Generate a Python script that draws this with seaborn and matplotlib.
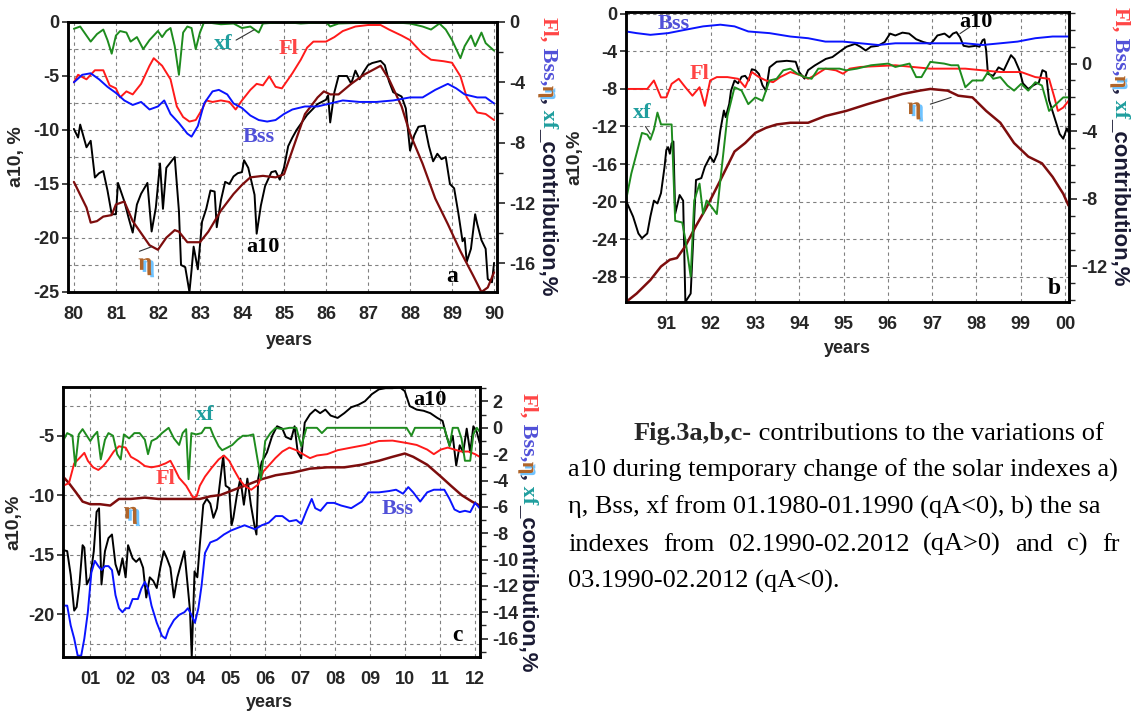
import matplotlib
matplotlib.use("Agg")
import matplotlib.pyplot as plt
import matplotlib.patheffects as pe
from matplotlib.ticker import MultipleLocator
import pandas as pd
import seaborn as sns

# ---------------- panel a : 1980 - 1990 ----------------
A_A10 = [(80.0,-9.9),(80.1,-10.7),(80.15,-9.5),(80.3,-11.6),(80.4,-11.0),(80.5,-14.4),(80.6,-14.0),(80.7,-13.8),
         (80.8,-15.6),(80.9,-17.8),(81.0,-17.8),(81.05,-14.9),(81.2,-16.6),(81.3,-18.1),(81.4,-19.5),(81.5,-16.9),
         (81.6,-15.9),(81.75,-14.9),(81.85,-19.4),(81.95,-17.2),(82.05,-13.1),(82.12,-17.3),(82.2,-13.5),(82.3,-13.0),
         (82.4,-12.5),(82.5,-17.5),(82.55,-22.5),(82.65,-22.7),(82.75,-25.0),(82.8,-23.0),(82.85,-20.8),(82.95,-22.9),
         (83.05,-18.5),(83.15,-17.3),(83.25,-15.6),(83.35,-15.7),(83.4,-19.0),(83.5,-16.5),(83.6,-14.8),(83.7,-15.0),
         (83.8,-14.3),(83.9,-14.0),(84.0,-13.9),(84.05,-12.8),(84.15,-13.5),(84.3,-16.0),(84.35,-19.6),(84.45,-17.0),
         (84.55,-15.2),(84.7,-13.9),(84.8,-13.8),(84.9,-14.6),(85.0,-13.5),(85.1,-11.5),(85.2,-10.7),(85.3,-10.0),
         (85.55,-8.6),(85.8,-7.6),(86.0,-7.2),(86.05,-6.8),(86.1,-9.3),(86.2,-6.5),(86.3,-5.0),(86.5,-5.0),
         (86.6,-5.7),(86.7,-4.5),(86.8,-5.3),(86.9,-4.6),(87.0,-4.0),(87.1,-3.8),(87.3,-3.6),(87.4,-4.0),
         (87.5,-5.5),(87.6,-6.5),(87.8,-6.9),(87.9,-8.0),(88.0,-11.9),(88.1,-10.5),(88.2,-9.7),(88.35,-9.6),
         (88.45,-11.5),(88.55,-12.9),(88.65,-12.2),(88.75,-12.7),(88.85,-12.5),(88.95,-15.0),(89.05,-15.4),(89.15,-17.7),
         (89.25,-20.3),(89.3,-20.0),(89.35,-22.2),(89.45,-21.0),(89.55,-17.8),(89.6,-18.7),(89.7,-20.2),(89.8,-21.0),
         (89.85,-23.8),(89.95,-24.1),(90.0,-22.3)]
A_ETA = [(80.0,-10.6),(80.3,-12.3),(80.4,-13.3),(80.55,-13.2),(80.7,-12.9),(80.9,-12.8),(81.0,-12.1),(81.2,-11.9),
         (81.4,-13.2),(81.6,-14.0),(81.8,-14.8),(82.0,-15.1),(82.2,-14.3),(82.4,-13.8),(82.5,-13.9),(82.7,-14.6),
         (83.0,-14.6),(83.2,-13.9),(83.5,-12.5),(83.8,-11.4),(84.0,-10.8),(84.2,-10.3),(84.5,-10.2),(84.8,-10.3),
         (85.0,-10.1),(85.2,-8.5),(85.5,-6.1),(85.8,-5.0),(85.95,-4.6),(86.1,-4.8),(86.3,-4.8),(86.6,-4.1),
         (86.9,-3.5),(87.1,-3.2),(87.3,-2.9),(87.5,-3.8),(87.8,-5.6),(88.0,-7.4),(88.3,-9.4),(88.6,-11.7),
         (88.9,-13.4),(89.2,-15.2),(89.5,-16.8),(89.7,-17.9),(89.85,-17.6),(90.0,-16.6)]
A_FL = [(80.0,-4.0),(80.1,-3.5),(80.3,-3.8),(80.5,-3.2),(80.7,-3.2),(80.85,-4.2),(81.0,-4.4),(81.1,-5.0),
        (81.25,-4.6),(81.4,-4.8),(81.6,-4.1),(81.8,-2.9),(81.9,-2.4),(82.1,-2.9),(82.3,-3.8),(82.45,-5.6),
        (82.6,-6.3),(82.75,-6.6),(82.9,-6.5),(83.05,-5.8),(83.15,-5.2),(83.3,-5.3),(83.5,-5.2),(83.7,-5.3),
        (83.85,-5.8),(84.0,-5.2),(84.2,-4.5),(84.35,-4.1),(84.5,-4.2),(84.65,-3.6),(84.8,-4.3),(84.95,-4.4),
        (85.1,-3.8),(85.2,-3.4),(85.4,-2.5),(85.55,-1.7),(85.7,-1.3),(86.0,-1.3),(86.2,-1.0),(86.4,-0.6),
        (86.7,-0.3),(87.0,-0.2),(87.3,-0.2),(87.5,-0.5),(87.8,-0.9),(88.0,-1.2),(88.3,-2.1),(88.5,-2.5),
        (88.8,-2.6),(89.0,-2.7),(89.2,-3.6),(89.35,-5.0),(89.6,-6.0),(89.8,-6.1),(90.0,-6.5)]
A_BSS = [(80.0,-4.0),(80.2,-3.5),(80.4,-3.4),(80.6,-3.8),(80.8,-4.3),(81.0,-4.7),(81.2,-5.2),(81.4,-5.5),
         (81.6,-5.3),(81.8,-5.8),(82.0,-5.6),(82.15,-5.2),(82.3,-6.1),(82.5,-6.7),(82.7,-7.4),(82.8,-7.6),
         (82.95,-6.9),(83.1,-5.4),(83.3,-4.6),(83.45,-4.5),(83.65,-4.8),(83.8,-5.4),(84.0,-5.7),(84.2,-6.2),
         (84.4,-6.5),(84.6,-6.6),(84.8,-6.5),(85.0,-6.1),(85.2,-5.8),(85.5,-5.6),(85.8,-5.6),(86.1,-5.4),
         (86.4,-5.2),(86.8,-5.3),(87.2,-5.3),(87.6,-5.2),(88.0,-5.0),(88.3,-5.0),(88.6,-4.5),(88.9,-4.1),
         (89.1,-4.4),(89.3,-4.8),(89.6,-5.0),(89.8,-5.0),(90.0,-5.4)]
A_XF = [(80.0,-0.45),(80.15,-0.3),(80.3,-0.9),(80.4,-1.3),(80.55,-0.8),(80.7,-0.5),(80.8,-1.2),(80.9,-2.1),
        (81.0,-0.9),(81.1,-0.6),(81.25,-0.7),(81.35,-1.3),(81.5,-1.0),(81.65,-1.8),(81.8,-1.2),(82.0,-0.6),
        (82.1,-1.0),(82.2,-0.6),(82.3,-0.4),(82.4,-1.6),(82.5,-3.5),(82.6,-0.7),(82.7,-0.3),(82.8,-0.4),
        (82.9,-1.8),(83.0,-0.7),(83.1,0.0),(83.5,-0.15),(83.8,-0.1),(84.0,-0.4),(84.2,-0.3),(84.4,-0.7),
        (84.5,-0.1),(85.0,0.0),(85.4,-0.1),(86.0,0.0),(86.1,-0.3),(86.3,-0.1),(87.5,0.0),(88.0,-0.1),
        (88.3,-0.3),(88.5,-0.5),(88.7,-0.1),(88.85,-0.5),(89.0,-1.2),(89.2,-2.4),(89.3,-1.6),(89.45,-0.9),
        (89.55,-1.6),(89.7,-0.7),(89.8,-1.4),(90.0,-1.9)]

# ---------------- panel b : 1990 - 2000 ----------------
B_A10 = [(90.09,-19.9),(90.25,-21.6),(90.37,-23.4),(90.45,-23.9),(90.57,-23.4),(90.64,-21.6),(90.72,-19.9),(90.8,-20.2),
         (90.88,-19.1),(90.92,-17.7),(90.96,-16.3),(91.0,-14.5),(91.04,-14.2),(91.08,-14.9),(91.12,-13.8),(91.16,-13.6),
         (91.2,-21.3),(91.3,-19.3),(91.38,-19.9),(91.43,-30.7),(91.55,-29.8),(91.67,-17.7),(91.79,-17.5),(91.87,-16.3),
         (91.99,-15.2),(92.07,-15.8),(92.15,-14.9),(92.22,-12.4),(92.3,-10.3),(92.34,-11.0),(92.42,-9.6),(92.46,-8.2),
         (92.54,-7.1),(92.62,-7.4),(92.7,-6.7),(92.78,-6.6),(92.86,-7.1),(92.93,-5.9),(93.01,-6.0),(93.09,-6.4),
         (93.17,-7.6),(93.25,-8.2),(93.33,-5.7),(93.49,-5.1),(93.72,-5.0),(93.92,-5.1),(94.0,-6.2),(94.12,-6.9),
         (94.2,-6.0),(94.35,-5.5),(94.6,-4.8),(94.75,-4.6),(94.95,-3.9),(95.07,-3.5),(95.26,-3.2),(95.38,-3.5),
         (95.5,-3.9),(95.62,-3.5),(95.78,-3.4),(95.93,-3.0),(96.05,-2.1),(96.17,-2.3),(96.33,-2.0),(96.48,-2.1),
         (96.64,-2.7),(96.8,-3.0),(96.96,-3.2),(97.04,-2.8),(97.12,-2.3),(97.28,-2.1),(97.39,-2.5),(97.47,-2.1),
         (97.55,-1.95),(97.63,-2.5),(97.71,-3.4),(97.83,-3.5),(97.99,-3.4),(98.07,-3.5),(98.14,-2.8),(98.18,-2.7),
         (98.22,-3.9),(98.26,-6.4),(98.38,-6.6),(98.5,-5.7),(98.62,-6.0),(98.78,-4.4),(98.86,-4.8),(98.97,-6.0),
         (99.05,-7.4),(99.17,-8.0),(99.29,-7.6),(99.41,-7.3),(99.49,-6.0),(99.57,-6.2),(99.64,-9.2),(99.76,-11.0),
         (99.88,-12.8),(99.96,-13.3),(100.04,-12.2),(100.08,-12.6)]
B_ETA = [(90.09,-14.1),(90.33,-13.6),(90.64,-12.8),(90.88,-12.0),(91.08,-11.6),(91.24,-11.5),(91.43,-10.8),(91.67,-9.6),
         (91.91,-8.5),(92.22,-6.9),(92.54,-5.2),(92.78,-4.7),(93.01,-4.1),(93.25,-3.8),(93.49,-3.6),(93.8,-3.5),
         (94.2,-3.5),(94.59,-3.1),(95.06,-2.8),(95.54,-2.4),(95.93,-2.1),(96.33,-1.8),(96.72,-1.6),(96.96,-1.5),
         (97.35,-1.6),(97.59,-1.9),(97.91,-2.0),(98.22,-2.8),(98.54,-3.5),(98.85,-4.7),(99.17,-5.5),(99.48,-5.9),
         (99.72,-6.7),(99.96,-7.7),(100.08,-8.4)]
B_FL = [(90.09,-1.5),(90.33,-1.5),(90.57,-1.5),(90.72,-1.0),(90.88,-2.0),(91.0,-2.0),(91.12,-1.2),(91.28,-0.9),
        (91.43,-1.4),(91.59,-1.9),(91.75,-1.4),(91.87,-2.5),(91.99,-1.0),(92.14,-0.8),(92.38,-0.8),(92.62,-0.9),
        (92.78,-1.4),(92.93,-0.5),(93.09,-0.8),(93.25,-1.0),(93.41,-1.1),(93.57,-0.8),(93.8,-0.5),(94.04,-0.7),
        (94.2,-0.9),(94.35,-0.7),(94.59,-0.3),(94.83,-0.4),(94.99,-0.6),(95.14,-0.3),(95.38,-0.2),(95.78,-0.15),
        (96.17,-0.1),(96.56,-0.2),(96.96,-0.3),(97.35,-0.3),(97.75,-0.3),(98.14,-0.4),(98.54,-0.5),(99.01,-0.5),
        (99.33,-0.8),(99.64,-0.9),(99.76,-2.0),(99.84,-2.8),(99.96,-2.6),(100.08,-2.2)]
B_XF = [(90.09,-8.1),(90.21,-6.5),(90.33,-5.3),(90.45,-4.1),(90.57,-4.2),(90.64,-4.5),(90.72,-3.9),(90.8,-2.9),
        (90.88,-3.6),(91.0,-3.6),(91.12,-3.6),(91.2,-9.3),(91.36,-9.4),(91.43,-10.4),(91.55,-12.6),(91.63,-8.1),
        (91.75,-7.1),(91.83,-8.9),(91.91,-8.1),(92.03,-8.5),(92.14,-8.9),(92.22,-6.9),(92.38,-3.1),(92.54,-1.4),
        (92.7,-1.6),(92.85,-2.4),(93.01,-2.0),(93.17,-2.2),(93.33,-1.0),(93.49,-0.9),(93.64,-0.4),(93.8,-0.3),
        (93.96,-0.6),(94.12,-0.8),(94.28,-0.9),(94.43,-0.3),(94.91,-0.3),(95.06,-0.4),(95.3,-0.3),(95.62,-0.1),
        (96.01,0.0),(96.17,-0.2),(96.49,0.0),(96.64,-0.8),(96.76,-0.8),(96.96,0.1),(97.27,0.0),(97.43,-0.1),
        (97.59,-0.1),(97.75,-1.4),(97.91,-1.0),(98.14,-1.0),(98.26,-0.5),(98.38,-0.9),(98.54,-0.8),(98.7,-1.3),
        (98.85,-1.6),(99.01,-1.2),(99.17,-1.6),(99.33,-1.1),(99.48,-1.3),(99.64,-2.8),(99.8,-2.4),(99.96,-2.0),
        (100.08,-2.0)]
B_BSS = [(90.09,1.9),(90.33,1.8),(90.64,1.7),(91.04,1.8),(91.43,2.0),(91.83,2.2),(92.22,2.3),(92.54,2.2),
         (92.85,1.9),(93.33,1.8),(93.8,1.6),(94.2,1.5),(94.59,1.3),(94.99,1.3),(95.38,1.2),(95.78,1.1),
         (96.17,1.2),(96.96,1.2),(97.75,1.2),(98.14,1.1),(98.54,1.2),(98.93,1.3),(99.33,1.5),(99.72,1.6),
         (100.08,1.6)]

# ---------------- panel c : 2000 - 2012 ----------------
C_A10 = [(0.22,-14.6),(0.34,-14.7),(0.44,-16.7),(0.54,-19.7),(0.61,-19.4),(0.69,-17.5),(0.78,-14.2),(0.83,-14.4),
         (0.9,-17.5),(1.0,-16.9),(1.1,-14.7),(1.18,-11.4),(1.25,-11.1),(1.32,-17.5),(1.42,-14.7),(1.52,-13.6),
         (1.62,-13.3),(1.72,-15.8),(1.82,-16.7),(1.92,-15.3),(2.01,-16.9),(2.08,-14.2),(2.21,-15.3),(2.31,-15.6),
         (2.41,-15.3),(2.51,-16.1),(2.6,-18.6),(2.7,-16.9),(2.8,-17.2),(2.9,-17.8),(3.0,-16.1),(3.1,-14.7),
         (3.19,-15.3),(3.29,-16.1),(3.39,-18.6),(3.49,-16.9),(3.59,-15.8),(3.69,-14.7),(3.79,-17.8),(3.85,-19.7),
         (3.9,-23.6),(3.98,-16.4),(4.06,-16.9),(4.13,-14.2),(4.23,-10.8),(4.33,-10.3),(4.43,-10.7),(4.52,-11.9),
         (4.62,-11.1),(4.72,-8.6),(4.8,-6.7),(4.87,-9.2),(4.97,-9.4),(5.04,-12.5),(5.09,-11.9),(5.19,-10.0),
         (5.29,-8.6),(5.39,-10.8),(5.49,-8.6),(5.59,-10.8),(5.69,-12.5),(5.75,-13.3),(5.8,-8.6),(5.9,-7.2),
         (6.05,-6.4),(6.2,-5.0),(6.34,-4.2),(6.49,-4.4),(6.59,-5.1),(6.74,-5.3),(6.84,-4.2),(6.93,-6.4),
         (7.03,-6.9),(7.13,-3.9),(7.28,-3.2),(7.43,-2.8),(7.57,-3.1),(7.72,-2.8),(7.87,-3.3),(8.07,-3.5),
         (8.26,-3.1),(8.46,-2.6),(8.66,-2.4),(8.85,-2.1),(9.05,-1.5),(9.25,-1.1),(9.44,-1.0),(9.64,-1.0),
         (9.84,-0.9),(9.99,-1.25),(10.13,-2.5),(10.33,-2.8),(10.53,-2.9),(10.72,-3.1),(10.92,-3.5),(11.07,-3.75),
         (11.17,-4.9),(11.27,-5.8),(11.36,-5.0),(11.46,-7.5),(11.56,-5.8),(11.66,-6.4),(11.76,-4.4),(11.86,-6.4),
         (11.95,-4.2),(12.05,-4.7),(12.13,-5.6)]
C_ETA = [(0.22,-3.7),(0.39,-4.2),(0.59,-4.9),(0.78,-5.6),(1.0,-5.8),(1.28,-5.8),(1.57,-5.9),(1.82,-5.4),
         (2.16,-5.4),(2.56,-5.3),(2.95,-5.4),(3.34,-5.4),(3.74,-5.4),(4.13,-5.4),(4.43,-5.2),(4.72,-5.1),
         (5.11,-4.7),(5.51,-4.3),(5.9,-3.9),(6.3,-3.6),(6.79,-3.4),(7.28,-3.1),(7.77,-3.0),(8.26,-3.0),
         (8.76,-2.8),(9.25,-2.5),(9.64,-2.2),(9.99,-1.95),(10.23,-2.2),(10.63,-2.8),(11.02,-3.7),(11.31,-4.4),
         (11.61,-5.1),(11.91,-5.6),(12.13,-5.9)]
C_FL = [(0.22,-4.4),(0.39,-4.2),(0.54,-2.7),(0.69,-2.3),(0.83,-1.9),(0.93,-2.5),(1.08,-3.0),(1.23,-3.2),
        (1.37,-2.9),(1.52,-2.4),(1.67,-1.8),(1.82,-1.4),(2.01,-1.5),(2.16,-2.2),(2.36,-2.5),(2.56,-2.9),
        (2.75,-3.0),(2.95,-2.9),(3.15,-2.7),(3.29,-2.5),(3.39,-3.0),(3.54,-3.8),(3.74,-4.4),(3.94,-5.3),
        (4.04,-5.2),(4.13,-4.4),(4.28,-3.7),(4.48,-3.0),(4.67,-2.4),(4.82,-2.1),(4.97,-2.5),(5.11,-3.2),
        (5.26,-3.9),(5.41,-4.4),(5.6,-4.7),(5.8,-4.3),(5.95,-3.3),(6.09,-2.9),(6.29,-2.3),(6.49,-1.8),
        (6.69,-1.5),(6.89,-1.7),(7.08,-2.0),(7.28,-2.3),(7.48,-2.1),(7.77,-2.0),(8.07,-1.7),(8.46,-1.5),
        (8.86,-1.3),(9.25,-1.0),(9.64,-0.97),(10.04,-1.15),(10.33,-1.3),(10.63,-1.65),(10.82,-2.0),(11.02,-1.65),
        (11.22,-1.5),(11.41,-1.65),(11.61,-1.8),(11.81,-1.8),(12.0,-2.0),(12.13,-2.2)]
C_XF = [(0.22,-1.0),(0.34,-0.4),(0.49,-0.6),(0.57,-2.9),(0.67,-0.5),(0.78,-0.1),(0.9,-0.6),(1.0,-1.0),
        (1.1,-0.6),(1.2,-0.3),(1.3,-2.4),(1.42,-0.9),(1.52,-0.4),(1.65,-0.6),(1.77,-2.0),(1.87,-2.4),
        (1.96,-0.5),(2.11,-0.8),(2.26,-0.4),(2.41,-0.4),(2.56,-0.9),(2.65,-2.0),(2.75,-1.0),(2.9,-0.8),
        (3.05,-0.4),(3.24,0.0),(3.39,-0.8),(3.54,-1.3),(3.64,-0.4),(3.74,-0.1),(3.81,-3.9),(3.89,-0.4),
        (4.03,-0.5),(4.18,-0.4),(4.28,0.0),(4.43,0.0),(4.52,-0.6),(4.67,-1.4),(4.77,-1.7),(4.92,-1.5),
        (5.06,-1.3),(5.21,-0.9),(5.36,-0.6),(5.51,-0.6),(5.66,-0.5),(5.8,-2.7),(5.88,-3.9),(6.0,-1.0),
        (6.15,-0.4),(6.3,0.0),(6.49,-0.1),(6.69,0.0),(6.89,0.0),(7.03,-1.4),(7.18,0.0),(7.48,0.0),
        (7.62,-0.4),(7.77,0.0),(8.26,0.0),(9.25,0.0),(10.04,0.0),(10.18,-0.6),(10.28,0.0),(11.12,0.0),
        (11.27,-1.4),(11.36,0.0),(11.51,0.0),(11.61,-0.8),(11.71,-2.5),(11.86,-2.5),(11.95,-0.5),(12.05,0.0),
        (12.13,-0.3)]
C_BSS = [(0.22,-13.5),(0.34,-13.5),(0.44,-15.0),(0.54,-16.0),(0.64,-17.3),(0.74,-17.3),(0.83,-16.0),(0.93,-14.0),
         (1.03,-11.0),(1.13,-10.1),(1.23,-10.5),(1.32,-10.8),(1.42,-10.5),(1.52,-10.5),(1.62,-10.8),(1.72,-12.7),
         (1.82,-13.7),(1.92,-14.0),(2.01,-13.7),(2.11,-13.7),(2.21,-13.0),(2.36,-13.0),(2.46,-12.2),(2.56,-11.7),
         (2.65,-12.2),(2.75,-13.5),(2.9,-14.8),(3.05,-15.8),(3.15,-16.0),(3.24,-15.3),(3.39,-14.6),(3.54,-14.2),
         (3.69,-14.0),(3.79,-13.7),(3.89,-14.2),(3.99,-14.8),(4.09,-13.7),(4.18,-12.0),(4.28,-9.5),(4.43,-8.7),
         (4.62,-8.5),(4.82,-8.1),(5.02,-7.8),(5.21,-7.6),(5.41,-7.4),(5.71,-7.7),(5.9,-7.4),(6.1,-7.2),
         (6.3,-6.7),(6.49,-6.7),(6.69,-7.1),(6.89,-7.0),(7.03,-7.3),(7.18,-6.3),(7.33,-5.4),(7.43,-6.1),
         (7.58,-6.3),(7.77,-5.7),(7.97,-5.7),(8.17,-5.9),(8.46,-6.1),(8.76,-5.6),(8.95,-4.9),(9.25,-4.9),
         (9.54,-4.8),(9.74,-4.7),(9.94,-5.0),(10.09,-4.5),(10.23,-4.9),(10.43,-5.6),(10.63,-4.9),(10.82,-4.7),
         (11.12,-4.7),(11.27,-5.4),(11.41,-6.2),(11.56,-6.4),(11.71,-6.3),(11.86,-6.4),(12.0,-5.7),(12.13,-6.1)]

A_YEARS = list(range(80, 91))
A_YEAR_LABELS = [str(y) for y in A_YEARS]
B_YEARS = list(range(91, 101))
B_YEAR_LABELS = ["91", "92", "93", "94", "95", "96", "97", "98", "99", "00"]
C_YEARS = list(range(1, 13))
C_YEAR_LABELS = ["%02d" % y for y in C_YEARS]

CAPTION_BOLD = "Fig.3a,b,c-"
CAPTION_LINE1 = " contributions to the variations of"
CAPTION_LINE2 = "a10 during temporary change of the solar indexes a)"
CAPTION_LINE3 = "η, Bss, xf from 01.1980-01.1990 (qA<0), b) the sa"
CAPTION_LINE4 = ["indexes", "from", "02.1990-02.2012", "(qA>0)", "and", "c)", "fr"]
CAPTION_LINE5 = "03.1990-02.2012 (qA<0)."

RED = "#ff1a1a"
BLUE = "#0a14ff"
GREEN = "#1e8c1e"
BROWN = "#7d0d0d"
TEAL = "#1f9e9e"
LRED = "#ff4545"
LBLUE = "#5050d8"
ETA_C = "#b0652a"
SERIF = "Liberation Serif"

W, H = 1131, 713


def DrawLine(ax, pts, color, lw):
    df = pd.DataFrame(pts, columns=["year", "value"])
    sns.lineplot(data=df, x="year", y="value", ax=ax, color=color, lw=lw,
                 estimator=None, sort=False)


def PxRect(left, top, right, bottom):
    return [left / W, 1 - bottom / H, (right - left) / W, (bottom - top) / H]


def StylePanel(ax, ax2, xlim, years, labels, ylim, yticks, ygrid, y2lim, y2ticks, y2minor, ylab, ylab_x, xlab_pos):
    ax.set_xlim(xlim)
    ax.set_ylim(ylim)
    ax.set_xticks(years)
    ax.set_xticklabels(labels)
    ax.xaxis.set_minor_locator(MultipleLocator(0.2))
    ax.set_yticks(yticks)
    ax.set_yticklabels([str(v) for v in yticks])
    ax.yaxis.set_minor_locator(MultipleLocator(ygrid))
    ax.grid(axis="x", which="major", color="#808080", ls=(0, (3, 3)), lw=0.8)
    ax.grid(axis="y", which="both", color="#808080", ls=(0, (3, 3)), lw=0.8)
    ax.tick_params(axis="x", which="major", direction="out", length=6, width=1.2, pad=4, labelsize=13)
    ax.tick_params(axis="x", which="minor", direction="inout", length=5, width=0.9)
    ax.tick_params(axis="y", which="major", direction="out", length=4, width=1.2, pad=2, labelsize=13)
    ax.tick_params(axis="y", which="minor", length=0)
    ax.set_xlabel("years", fontsize=13, fontweight="bold")
    ax.set_ylabel(ylab, fontsize=14, fontweight="bold")
    ax.yaxis.set_label_coords(ylab_x, 0.5)
    ax.xaxis.set_label_coords(xlab_pos[0], xlab_pos[1])

    ax2.set_ylim(y2lim)
    ax2.set_yticks(y2ticks)
    ax2.set_yticklabels([str(v) for v in y2ticks])
    ax2.yaxis.set_minor_locator(MultipleLocator(y2minor))
    ax2.tick_params(axis="y", which="major", direction="out", length=6, width=1.2, pad=3, labelsize=13)
    ax2.tick_params(axis="y", which="minor", direction="out", length=4, width=1.0)
    ax2.grid(False)
    ax2.set_ylabel("")
    ax2.set_xlabel("")
    for a in (ax, ax2):
        for s in a.spines.values():
            s.set_linewidth(1.8)
            s.set_color("black")


def RightLabel(fig, ax, x, y):
    parts = [("Fl,", LRED, SERIF), (" Bss,", LBLUE, SERIF), ("η", ETA_C, SERIF),
             (",", "#222244", SERIF), (" xf", TEAL, SERIF), ("_contribution,%", "#1a1a33", "Liberation Sans")]
    t = fig.text(x / W, 1 - y / H, parts[0][0], rotation=270, ha="center", va="top",
                 color=parts[0][1], family=parts[0][2], fontsize=16, fontweight="bold")
    for s, c, f in parts[1:]:
        t = ax.annotate(s, xy=(0.5, 0.0), xycoords=t, rotation=270, ha="center", va="top",
                        color=c, family=f, fontsize=16, fontweight="bold", annotation_clip=False)
        if s == "η":
            t.set_path_effects([pe.withSimplePatchShadow(offset=(1.5, -1.5), shadow_rgbFace="#6fc3ff", alpha=1.0)])


def Tag(ax, x, y, s, color, size=16):
    t = ax.text(x, y, s, color=color, family=SERIF, fontsize=size, fontweight="bold",
                ha="center", va="center")
    if s == "η":
        t.set_path_effects([pe.withSimplePatchShadow(offset=(2, -1.5), shadow_rgbFace="#6fc3ff", alpha=1.0)])
    return t


def Leader(ax, p0, p1):
    ax.plot([p0[0], p1[0]], [p0[1], p1[1]], color="#333333", lw=0.8)


def main():
    sns.set_theme(style="white")
    plt.rcParams["font.family"] = ["Liberation Sans", "DejaVu Sans"]
    plt.rcParams["font.weight"] = "bold"
    plt.rcParams["axes.unicode_minus"] = False

    fig = plt.figure(figsize=(W / 100, H / 100), dpi=100)
    fig.patch.set_facecolor("white")

    # ---- panel a
    ax = fig.add_axes(PxRect(68, 22, 497, 292))
    ax2 = ax.twinx()
    DrawLine(ax, A_A10, "black", 1.4)
    DrawLine(ax2, A_ETA, BROWN, 1.6)
    DrawLine(ax2, A_FL, RED, 1.4)
    DrawLine(ax2, A_BSS, BLUE, 1.4)
    DrawLine(ax2, A_XF, GREEN, 1.4)
    StylePanel(ax, ax2, (79.86, 90.07), A_YEARS, A_YEAR_LABELS,
               (-25, 0), [0, -5, -10, -15, -20, -25], 2.5,
               (-17.9, 0), [0, -4, -8, -12, -16], 2, "a10, %", -0.10, (0.515, -0.148))
    Tag(ax2, 83.55, -1.45, "xf", TEAL)
    Leader(ax2, (83.86, -1.2), (84.3, -0.5))
    Tag(ax2, 85.1, -1.8, "Fl", LRED)
    Tag(ax2, 84.4, -7.6, "Bss", LBLUE)
    Tag(ax, 84.5, -20.8, "a10", "black")
    Tag(ax2, 81.7, -16.0, "η", ETA_C, 18)
    Leader(ax2, (81.56, -15.2), (81.85, -14.9))
    Tag(ax, 89.0, -23.6, "a", "black", 17)
    RightLabel(fig, ax2, 548, 17)

    # ---- panel b
    bx = fig.add_axes(PxRect(626, 12, 1069, 302))
    bx2 = bx.twinx()
    DrawLine(bx, B_A10, "black", 1.4)
    DrawLine(bx2, B_ETA, BROWN, 1.8)
    DrawLine(bx2, B_FL, RED, 1.4)
    DrawLine(bx2, B_BSS, BLUE, 1.4)
    DrawLine(bx2, B_XF, GREEN, 1.4)
    StylePanel(bx, bx2, (90.09, 100.09), B_YEARS, B_YEAR_LABELS,
               (-30.7, 0.2), [0, -4, -8, -12, -16, -20, -24, -28], 4,
               (-14.1, 3.05), [0, -4, -8, -12], 1, "a10,%", -0.097, (0.5, -0.131))
    Tag(bx, 91.16, -1.1, "Bss", LBLUE)
    Tag(bx, 97.98, -0.9, "a10", "black")
    Leader(bx, (97.63, -2.1), (97.85, -1.4))
    Tag(bx, 91.75, -6.4, "Fl", LRED)
    Tag(bx, 90.45, -10.6, "xf", TEAL)
    Leader(bx, (90.53, -12.0), (90.64, -12.8))
    Tag(bx2, 96.6, -2.6, "η", ETA_C, 18)
    Leader(bx2, (96.96, -2.4), (97.43, -2.0))
    Tag(bx, 99.76, -29.3, "b", "black", 17)
    RightLabel(fig, bx2, 1120, 7)

    # ---- panel c
    cx = fig.add_axes(PxRect(63, 387, 480, 657))
    cx2 = cx.twinx()
    DrawLine(cx, C_A10, "black", 1.4)
    DrawLine(cx2, C_ETA, BROWN, 1.8)
    DrawLine(cx2, C_FL, RED, 1.4)
    DrawLine(cx2, C_BSS, BLUE, 1.4)
    DrawLine(cx2, C_XF, GREEN, 1.4)
    StylePanel(cx, cx2, (0.22, 12.14), C_YEARS, C_YEAR_LABELS,
               (-23.6, -0.9), [-5, -10, -15, -20], 2.5,
               (-17.4, 3.1), [2, 0, -2, -4, -6, -8, -10, -12, -14, -16], 1, "a10,%", -0.098, (0.496, -0.137))
    Tag(cx2, 10.72, 2.1, "a10", "black")
    Tag(cx2, 4.28, 1.0, "xf", TEAL)
    Tag(cx2, 3.15, -3.9, "Fl", LRED)
    Tag(cx2, 2.16, -6.4, "η", ETA_C, 18)
    Tag(cx2, 9.79, -6.2, "Bss", LBLUE)
    Tag(cx2, 11.5, -15.8, "c", "black", 17)
    RightLabel(fig, cx2, 528, 393)

    # ---- caption (justified block cut by the right edge)
    cap = dict(family=SERIF, fontsize=19, color="black", va="baseline", fontweight="normal")
    y1 = 1 - 440 / H
    t = fig.text(634 / W, y1, CAPTION_BOLD, family=SERIF, fontsize=19, va="baseline", fontweight="bold")
    ax.annotate(CAPTION_LINE1, xy=(1.0, y1), xycoords=(t, "figure fraction"),
                annotation_clip=False, **cap)
    fig.text(568 / W, 1 - 477 / H, CAPTION_LINE2, **cap)
    fig.text(568 / W, 1 - 514 / H, CAPTION_LINE3, **cap)

    renderer = fig.canvas.get_renderer()
    words = [fig.text(0, 1 - 551 / H, w, **cap) for w in CAPTION_LINE4]
    widths = [w.get_window_extent(renderer).width for w in words]
    gap = (1102 - 568 - sum(widths[:-1])) / (len(words) - 1)
    px = 568
    for w, wd in zip(words, widths):
        w.set_x(px / W)
        px += wd + gap
    fig.text(568 / W, 1 - 588 / H, CAPTION_LINE5, **cap)

    fig.savefig("out.png", dpi=100, facecolor="white")


if __name__ == "__main__":
    main()
